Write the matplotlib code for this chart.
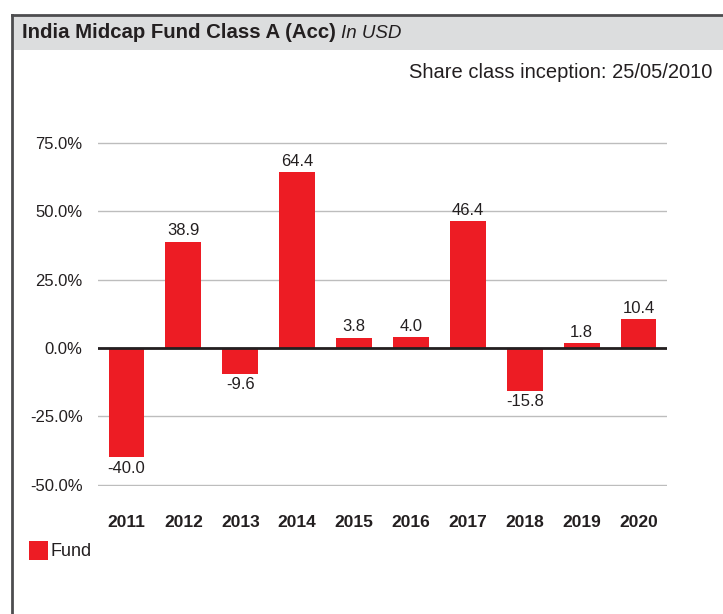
import matplotlib.pyplot as plt
from matplotlib.patches import Rectangle
from matplotlib.lines import Line2D

years = ['2011', '2012', '2013', '2014', '2015', '2016', '2017', '2018', '2019', '2020']
fund = [-40.0, 38.9, -9.6, 64.4, 3.8, 4.0, 46.4, -15.8, 1.8, 10.4]
yticks = [-50, -25, 0, 25, 50, 75]

RED = '#ED1C24'
TXT = '#231F20'
W, H = 723, 614

plt.rcParams['font.family'] = ['Liberation Sans', 'DejaVu Sans']
fig = plt.figure(figsize=(W / 100, H / 100), dpi=100)

# Header band and frame
fig.patches.append(Rectangle((12 / W, 1 - 50 / H), 1, 35 / H, transform=fig.transFigure,
                             facecolor='#DCDDDE', edgecolor='none', zorder=0))
fig.lines.append(Line2D([12 / W, 1], [1 - 15 / H, 1 - 15 / H], transform=fig.transFigure,
                        color='#4D4D4F', lw=2))
fig.lines.append(Line2D([12 / W, 12 / W], [0, 1 - 15 / H], transform=fig.transFigure,
                        color='#4D4D4F', lw=2))

title = fig.text(22 / W, 1 - 33 / H, 'India Midcap Fund Class A (Acc)', fontsize=14.7,
                 fontweight='bold', color=TXT, va='center')
fig.canvas.draw()
bb = title.get_window_extent()
fig.text((bb.x1 + 5) / W, 1 - 33 / H, 'In USD', fontsize=13.5, style='italic',
         color=TXT, va='center')
fig.text(712 / W, 1 - 73 / H, 'Share class inception: 25/05/2010', fontsize=14.5,
         color=TXT, va='center', ha='right')

ax = fig.add_axes([98 / W, (H - 486) / H, 569 / W, 344 / H])
x = range(len(years))
ax.bar(x, fund, width=0.63, color=RED, zorder=2)
ax.axhline(0, color=TXT, lw=2, zorder=3)
for i, v in enumerate(fund):
    if v >= 0:
        ax.text(i, v + 1.2, f'{v:.1f}', ha='center', va='bottom', fontsize=12, color=TXT)
    else:
        ax.text(i, v - 1.2, f'{v:.1f}', ha='center', va='top', fontsize=12, color=TXT)

ax.set_xlim(-0.5, len(years) - 0.5)
ax.set_ylim(-50.5, 75.3)
ax.set_yticks(yticks)
ax.set_yticklabels([f'{t:.1f}%' for t in yticks], fontsize=12, color=TXT)
ax.set_xticks(list(x))
ax.set_xticklabels(years, fontsize=12.5, fontweight='bold', color=TXT)
ax.tick_params(axis='both', length=0)
ax.tick_params(axis='y', pad=11)
ax.tick_params(axis='x', pad=21)
ax.yaxis.grid(True, color='#BDBDBD', lw=1, zorder=0)
ax.set_axisbelow(True)
for s in ax.spines.values():
    s.set_visible(False)

# Legend
fig.patches.append(Rectangle((29 / W, 1 - 560 / H), 19 / W, 19 / H, transform=fig.transFigure,
                             facecolor=RED, edgecolor='none'))
fig.text(51 / W, 1 - 551 / H, 'Fund', fontsize=13, color=TXT, va='center')

fig.savefig('out.png', dpi=100)
